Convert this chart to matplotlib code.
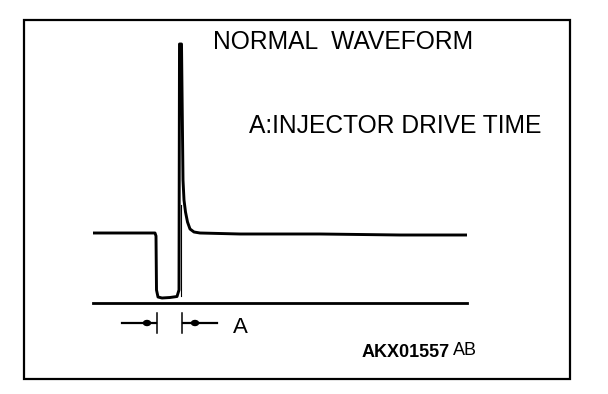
import numpy as np
import matplotlib
matplotlib.use("Agg")
import matplotlib.pyplot as plt
import matplotlib.patches as mpatches

plt.rcParams["font.family"] = ["Liberation Sans", "DejaVu Sans"]

# waveform trace, in drawing units (x = time, y = level, y grows downward)
wave_t = [93, 155, 156, 156.5, 158, 162, 170, 177, 179, 179.5, 181.5, 183,
          184, 185.5, 187.5, 190, 194, 200, 240, 320, 400, 467]
wave_v = [233, 233, 236, 290, 297, 298, 297.5, 296.5, 290, 44, 44, 180,
          200, 212, 222, 229, 232, 233, 234, 234, 235, 235]

# thin line inside the spike (rising edge)
edge_t = [180.5, 180.5]
edge_v = [296, 205]

# zero / ground line
ground_t = [93, 467]
ground_v = [303, 303]

# drive time "A" markers
mark_y = 323
drive_start = 157
drive_end = 182

title_text = "NORMAL  WAVEFORM"
legend_text = "A:INJECTOR DRIVE TIME"
code_text = "AKX01557"
code_suffix = "AB"


def main():
    fig = plt.figure(figsize=(6.08, 3.94), dpi=100)
    ax = fig.add_axes([0, 0, 1, 1])
    ax.set_xlim(0, 608)
    ax.set_ylim(394, 0)
    ax.axis("off")

    # frame
    ax.add_patch(mpatches.Rectangle((23.5, 20), 546.5, 359, fill=False,
                                    edgecolor="black", linewidth=1.6))

    ax.plot(wave_t, wave_v, color="black", linewidth=2.1,
            solid_joinstyle="round", solid_capstyle="butt")
    ax.plot(edge_t, edge_v, color="black", linewidth=0.8)
    ax.plot(ground_t, ground_v, color="black", linewidth=2.0)

    # dimension marks
    for x in (drive_start, drive_end):
        ax.plot([x, x], [mark_y - 10, mark_y + 10], color="black",
                linewidth=1.1)
    ax.plot([122, drive_start - 1], [mark_y, mark_y], color="black",
            linewidth=1.6)
    ax.plot([drive_end + 1, 217], [mark_y, mark_y], color="black",
            linewidth=1.6)
    for x in (drive_start - 10, drive_end + 13):
        ax.add_patch(mpatches.Ellipse((x, mark_y), 7, 5, color="black"))

    ax.text(233, 333, "A", fontsize=16, ha="left", va="baseline")

    ax.text(213, 49, title_text, fontsize=17.7, ha="left", va="baseline")
    ax.text(249, 133, legend_text, fontsize=17.7, ha="left", va="baseline")
    ax.text(362, 357, code_text, fontsize=13, fontweight="bold",
            ha="left", va="baseline")
    ax.text(453, 355, code_suffix, fontsize=13, ha="left", va="baseline")

    plt.savefig("out.png", dpi=100, facecolor="white")
    plt.close()


if __name__ == "__main__":
    main()
